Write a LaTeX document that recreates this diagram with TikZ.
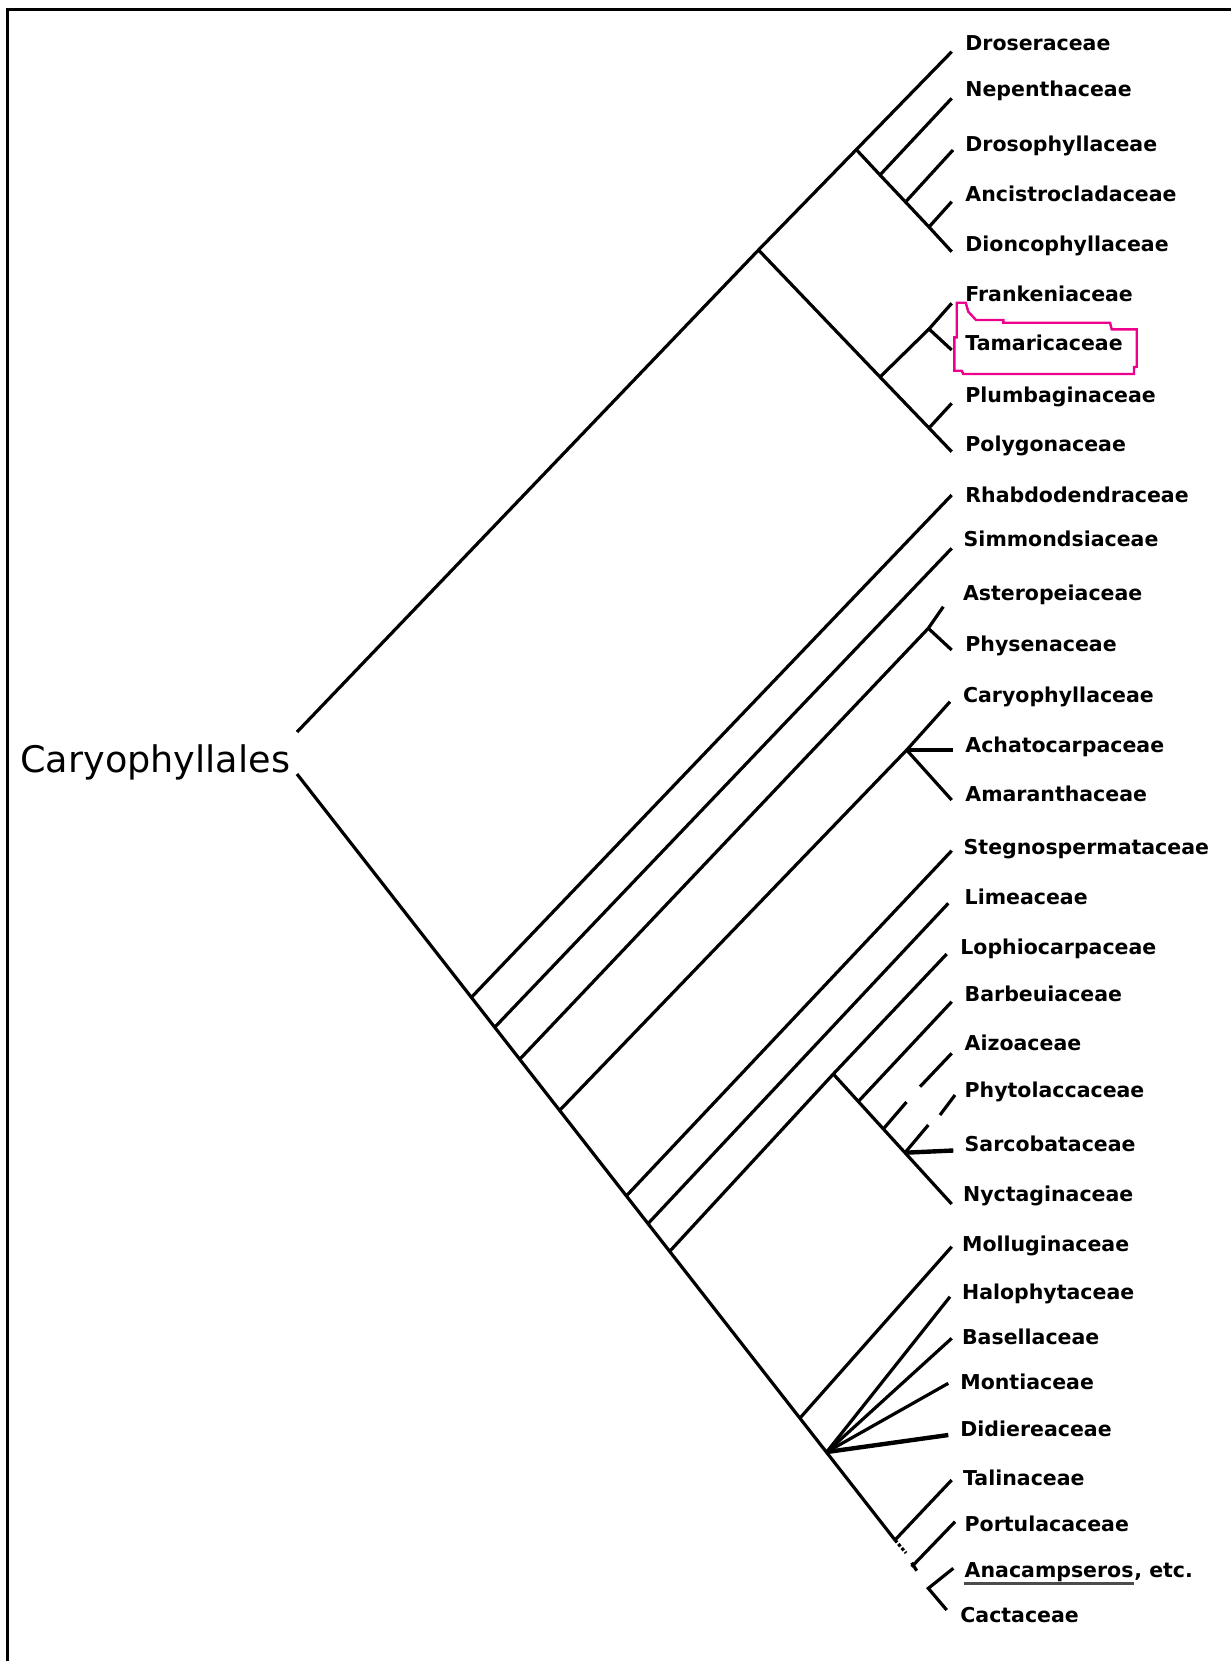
\documentclass[tikz,border=0pt]{standalone}
\usepackage{fontspec}
\setmainfont{DejaVu Sans}
\usepackage{tikz}

\begin{document}
\begin{tikzpicture}[x=0.5pt,y=-0.5pt,
  branch/.style={line width=1.6pt},
  stem/.style={line width=2.2pt},
  taxon/.style={anchor=base west,inner sep=0pt,font=\bfseries\fontsize{10.25}{12}\selectfont}]
\useasboundingbox (0,0) rectangle (1231,1661);
\draw[line width=1.35pt] (7.5,1661) -- (7.5,9.3) -- (1231,9.3);
\node[anchor=base west,inner sep=0pt,font=\fontsize{18.3}{21}\selectfont] (order) at (20,772) {Caryophyllales};
% junctions
\coordinate (rootup) at (297,732);
\coordinate (rootdown) at (297,774);
\coordinate (noncore) at (758.5,250);
\coordinate (ndros) at (856.7,150);
\coordinate (nnep) at (880,175);
\coordinate (ndrosoph) at (905.5,202);
\coordinate (nancis) at (929,227);
\coordinate (nfp) at (880,377);
\coordinate (nfrank) at (929,329);
\coordinate (npoly) at (929,428);
\coordinate (nrhab) at (471.7,997);
\coordinate (nsimm) at (495,1027);
\coordinate (naster) at (520,1059);
\coordinate (nphys) at (928.3,628.3);
\coordinate (ncaryo) at (560,1110);
\coordinate (namar) at (906.7,750);
\coordinate (nsteg) at (626.7,1195.5);
\coordinate (nlime) at (648.3,1223.3);
\coordinate (nloph) at (670,1251);
\coordinate (nnyct) at (833.3,1074);
\coordinate (nbarb) at (858.3,1101.5);
\coordinate (naizo) at (883.3,1129);
\coordinate (nsarco) at (905,1152.7);
\coordinate (nmoll) at (800,1418);
\coordinate (nfan) at (826.7,1452);
\coordinate (ntal) at (895,1540);
\coordinate (nport) at (911.7,1566.7);
\coordinate (ncact) at (928.3,1588.3);
% tips
\coordinate (tdros) at (951.7,51.7);
\coordinate (tnep) at (951.7,98.3);
\coordinate (tdrosoph) at (953,150);
\coordinate (tancis) at (951.7,201.7);
\coordinate (tdionc) at (951.7,251.7);
\coordinate (tfrank) at (951.7,303.3);
\coordinate (ttamar) at (951.7,350);
\coordinate (tplumb) at (951.7,403.3);
\coordinate (tpoly) at (951.7,451.7);
\coordinate (trhab) at (951.7,495);
\coordinate (tsimm) at (951.7,548.3);
\coordinate (taster) at (943.3,606.7);
\coordinate (tphys) at (951.7,650);
\coordinate (tcaryo) at (950,701.7);
\coordinate (tachat) at (953.3,750);
\coordinate (tamar) at (951.7,800);
\coordinate (tsteg) at (951.7,850.7);
\coordinate (tlime) at (948.3,903.3);
\coordinate (tloph) at (946.7,954);
\coordinate (tbarb) at (951.7,1001.7);
\coordinate (aizocut) at (906.5,1102);
\coordinate (aizoend) at (920,1086.7);
\coordinate (taizo) at (951.7,1053.3);
\coordinate (phytocut) at (928.3,1125);
\coordinate (phytoend) at (940,1115);
\coordinate (tphyto) at (955,1095);
\coordinate (tsarco) at (953.3,1150.5);
\coordinate (tnyct) at (951.7,1204);
\coordinate (tmoll) at (951.7,1246.7);
\coordinate (thalo) at (950,1296.7);
\coordinate (tbasel) at (951.7,1338.3);
\coordinate (tmont) at (948.3,1383.3);
\coordinate (tdidi) at (948.3,1435);
\coordinate (ttal) at (951.7,1480);
\coordinate (talend) at (906,1553);
\coordinate (tport) at (955,1521.7);
\coordinate (porthook) at (916.7,1570.7);
\coordinate (tanac) at (953.3,1568.3);
\coordinate (tcact) at (946.7,1610);
% branches
\draw[branch] (rootup) -- (noncore) -- (tdros);
\draw[branch] (noncore) -- (nfp) -- (npoly) -- (tpoly);
\draw[branch] (ndros) -- (nnep) -- (ndrosoph) -- (nancis) -- (tdionc);
\draw[branch] (nnep) -- (tnep);
\draw[branch] (ndrosoph) -- (tdrosoph);
\draw[branch] (nancis) -- (tancis);
\draw[branch] (nfp) -- (nfrank) -- (tfrank);
\draw[branch] (nfrank) -- (ttamar);
\draw[branch] (npoly) -- (tplumb);
\draw[branch] (rootdown) -- (ntal);
\draw[branch,densely dotted] (ntal) -- (talend);
\draw[branch] (nrhab) -- (trhab);
\draw[branch] (nsimm) -- (tsimm);
\draw[branch] (naster) -- (nphys) -- (taster);
\draw[branch] (nphys) -- (tphys);
\draw[branch] (ncaryo) -- (namar) -- (tcaryo);
\draw[branch] (namar) -- (tamar);
\draw[stem] (namar) -- (tachat);
\draw[branch] (nsteg) -- (tsteg);
\draw[branch] (nlime) -- (tlime);
\draw[branch] (nloph) -- (nnyct) -- (tloph);
\draw[branch] (nnyct) -- (tnyct);
\draw[branch] (nbarb) -- (tbarb);
\draw[branch] (naizo) -- (aizocut);
\draw[branch] (aizoend) -- (taizo);
\draw[branch] (nsarco) -- (phytocut);
\draw[branch] (phytoend) -- (tphyto);
\draw[stem] (nsarco) -- (tsarco);
\draw[branch] (nmoll) -- (tmoll);
\draw[branch] (nfan) -- (thalo);
\draw[branch] (nfan) -- (tbasel);
\draw[branch] (nfan) -- (tmont);
\draw[stem] (nfan) -- (tdidi);
\draw[branch] (ntal) -- (ttal);
\draw[branch] (nport) -- (tport);
\draw[branch] ([yshift=2pt]nport) -- (porthook);
\draw[branch] (tanac) -- (ncact) -- (tcact);
% taxa
\node[taxon] (droseraceae) at (965,50) {Droseraceae};
\node[taxon] (nepenthaceae) at (965,96.7) {Nepenthaceae};
\node[taxon] (drosophyllaceae) at (965,151) {Drosophyllaceae};
\node[taxon] (ancistrocladaceae) at (965,201.7) {Ancistrocladaceae};
\node[taxon] (dioncophyllaceae) at (965,251.7) {Dioncophyllaceae};
\node[taxon] (frankeniaceae) at (965,301.7) {Frankeniaceae};
\node[taxon] (tamaricaceae) at (965,350.7) {Tamaricaceae};
\node[taxon] (plumbaginaceae) at (965,402.7) {Plumbaginaceae};
\node[taxon] (polygonaceae) at (965,451) {Polygonaceae};
\node[taxon] (rhabdodendraceae) at (965,502.7) {Rhabdodendraceae};
\node[taxon] (simmondsiaceae) at (963.3,546) {Simmondsiaceae};
\node[taxon] (asteropeiaceae) at (962.7,600) {Asteropeiaceae};
\node[taxon] (physenaceae) at (965,651.7) {Physenaceae};
\node[taxon] (caryophyllaceae) at (962.7,702.7) {Caryophyllaceae};
\node[taxon] (achatocarpaceae) at (965,752.7) {Achatocarpaceae};
\node[taxon] (amaranthaceae) at (965,801.7) {Amaranthaceae};
\node[taxon] (stegnospermataceae) at (963.3,854.3) {Stegnospermataceae};
\node[taxon] (limeaceae) at (964.3,904.3) {Limeaceae};
\node[taxon] (lophiocarpaceae) at (960,954.3) {Lophiocarpaceae};
\node[taxon] (barbeuiaceae) at (964.3,1001.7) {Barbeuiaceae};
\node[taxon] (aizoaceae) at (964.3,1050) {Aizoaceae};
\node[taxon] (phytolaccaceae) at (964.3,1097.7) {Phytolaccaceae};
\node[taxon] (sarcobataceae) at (964.3,1151.7) {Sarcobataceae};
\node[taxon] (nyctaginaceae) at (962.7,1201) {Nyctaginaceae};
\node[taxon] (molluginaceae) at (961.7,1251.7) {Molluginaceae};
\node[taxon] (halophytaceae) at (961.7,1299.3) {Halophytaceae};
\node[taxon] (basellaceae) at (961.7,1344) {Basellaceae};
\node[taxon] (montiaceae) at (960,1389.3) {Montiaceae};
\node[taxon] (didiereaceae) at (960,1436) {Didiereaceae};
\node[taxon] (talinaceae) at (962.7,1485.3) {Talinaceae};
\node[taxon] (portulacaceae) at (964.3,1531.7) {Portulacaceae};
\node[taxon] (anacampseros) at (964.3,1577) {Anacampseros};
\node[taxon] (etc) at (anacampseros.base east) {, etc.};
\node[taxon] (cactaceae) at (960,1622.7) {Cactaceae};
\draw[line width=1.5pt,black!70] ([yshift=-3pt]anacampseros.base west) -- ([yshift=-3pt]anacampseros.base east);
% highlight
\draw[magenta,line width=1.2pt] (956.7,302.7) -- (965.7,302.7) -- (968.3,311.7) -- (976,320) -- (1003.3,320) -- (1003.3,322.7) -- (1110,322.7) -- (1111.7,329.3) -- (1136.7,329.3) -- (1136.7,366.7) -- (1134,367.3) -- (1134,374) -- (963.3,374) -- (961.7,370.7) -- (954.3,370.7) -- (954.3,337.3) -- (956.7,337.3) -- cycle;
\end{tikzpicture}
\end{document}
